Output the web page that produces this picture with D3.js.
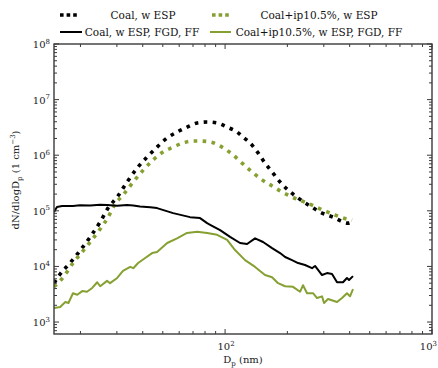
<!DOCTYPE html>
<html><head><meta charset="utf-8">
<script src="https://cdn.jsdelivr.net/npm/d3@7"></script>
<style>
body{margin:0;background:#fff;}
svg{display:block;}
svg text{font-family:'DejaVu Serif','Liberation Serif',serif;}
</style></head><body>
<svg id="c" width="438" height="368"></svg>
<script>
// ---- data (diameter in nm, dN/dlogDp in cm^-3) ----
const seriesNames = ["Coal, w ESP", "Coal+ip10.5%, w ESP", "Coal, w ESP, FGD, FF", "Coal+ip10.5%, w ESP, FGD, FF"];

const coalEspD = [14.9,15.96,17.8,19.5,22.3,24.9,27.2,30.1,33.6,37.6,42.0,46.9,52.5,58.6,65.5,73.3,81.9,91.5,102.3,114.3,122.2,135.0,144.3,156.0,168.7,184.4,201.5,225.3,257.4,287.6,332.5,392.7,410.6];
const coalEspV = [5.0e3,7.3e3,1.15e4,1.74e4,3.4e4,6.3e4,1.12e5,1.77e5,3.3e5,5.9e5,9.3e5,1.40e6,2.04e6,2.61e6,3.2e6,3.8e6,3.95e6,3.8e6,3.2e6,2.61e6,2.12e6,1.52e6,1.10e6,7.2e5,5.0e5,3.3e5,2.37e5,1.70e5,1.22e5,9.5e4,7.7e4,6.0e4,6.3e4];

const ipEspD = [14.9,16.5,18.4,20.4,22.3,24.9,27.2,29.4,32.1,36.0,40.2,44.9,50.1,56.1,62.7,70.0,75.7,84.7,96.7,109.3,120.8,135.0,150.9,168.7,188.5,210.7,235.5,263.2,297.3,339.9,388.3,410.6];
const ipEspV = [4.3e3,6.4e3,1.15e4,1.82e4,2.75e4,4.7e4,7.7e4,1.32e5,1.92e5,3.3e5,5.4e5,8.2e5,1.14e6,1.40e6,1.66e6,1.80e6,1.80e6,1.73e6,1.40e6,1.01e6,7.2e5,5.0e5,3.6e5,2.8e5,2.18e5,1.77e5,1.50e5,1.27e5,1.03e5,8.4e4,7.1e4,6.8e4];

const coalFfD = [14.9,15.1,15.4,16.3,18.4,19.9,22.3,24.9,26.9,30.1,33.6,36.0,38.8,43.5,46.9,56.1,67.7,75.7,81.9,84.7,94.6,105.7,118.1,127.7,139.6,152.6,168.7,184.4,195.0,210.7,225.3,243.4,263.2,272.1,294.1,311.0,328.8,347.6,371.5,388.3,397.2,415.2];
const coalFfV = [9.5e4,1.03e5,1.17e5,1.22e5,1.22e5,1.26e5,1.25e5,1.29e5,1.27e5,1.24e5,1.27e5,1.25e5,1.20e5,1.16e5,1.12e5,9.1e4,7.7e4,7.4e4,6.0e4,5.6e4,4.5e4,3.4e4,2.64e4,2.53e4,3.2e4,2.75e4,2.14e4,1.74e4,1.48e4,1.30e4,1.15e4,1.06e4,9.3e3,1.02e4,7.0e3,7.6e3,7.3e3,5.2e3,5.2e3,6.2e3,5.7e3,6.7e3];

const ipFfD = [14.9,15.96,16.9,17.5,18.4,19.3,20.4,21.5,22.8,24.1,24.9,26.9,27.8,30.1,32.1,34.8,36.0,38.0,41.1,44.4,46.9,52.5,58.6,65.5,73.3,81.9,91.5,102.3,111.7,124.9,139.6,156.0,168.7,180.3,195.0,213.0,230.3,238.1,248.9,266.1,278.2,294.1,300.7,314.5,347.6,367.4,388.3,401.6,415.2];
const ipFfV = [1.79e3,1.86e3,2.3e3,2.2e3,3.3e3,3.1e3,3.6e3,3.5e3,4.1e3,5.2e3,4.4e3,5.5e3,5.0e3,6.2e3,8.3e3,9.8e3,9.3e3,1.15e4,1.42e4,1.74e4,1.82e4,2.64e4,3.2e4,4.0e4,4.2e4,4.0e4,3.7e4,3.0e4,1.97e4,1.30e4,9.8e3,7.0e3,6.4e3,5.0e3,4.4e3,4.3e3,3.5e3,4.6e3,3.3e3,3.3e3,2.7e3,2.9e3,2.2e3,2.6e3,2.3e3,2.7e3,3.3e3,2.9e3,3.9e3];

const xTickVals = [100, 1000];
const xTickExp = ["2", "3"];
const yTickVals = [1e3, 1e4, 1e5, 1e6, 1e7, 1e8];
const yTickExp = ["3", "4", "5", "6", "7", "8"];

// ---- layout ----
const FONT = "'DejaVu Serif','Liberation Serif',serif";
const svg = d3.select("#c");
const L = 54, R = 432, T = 44, B = 334;
const x = d3.scaleLog().domain([14.9, 1000]).range([L, R]);
const y = d3.scaleLog().domain([Math.pow(10, 2.785), 1e8]).range([B, T]);
const green = "#86a032";
const axisCol = "#3a3a3a";

const line = d3.line().x(d => x(d[0])).y(d => y(d[1]));
const zip = (a, b) => a.map((v, i) => [v, b[i]]);
svg.append("clipPath").attr("id", "pc").append("rect").attr("x", L).attr("y", T).attr("width", R - L).attr("height", B - T);
const g = svg.append("g").attr("clip-path", "url(#pc)");

const styles = [
  {d: zip(coalEspD, coalEspV), c: "#000", w: 3.6, dash: "3.6,5.4", curve: d3.curveMonotoneX},
  {d: zip(ipEspD, ipEspV), c: green, w: 3.6, dash: "3.6,5.4", curve: d3.curveMonotoneX},
  {d: zip(coalFfD, coalFfV), c: "#000", w: 2, dash: null, curve: d3.curveLinear},
  {d: zip(ipFfD, ipFfV), c: green, w: 2, dash: null, curve: d3.curveLinear}
];
styles.forEach(s => {
  g.append("path").attr("d", line.curve(s.curve)(s.d))
    .attr("fill", "none").attr("stroke", s.c).attr("stroke-width", s.w)
    .attr("stroke-dasharray", s.dash).attr("stroke-linejoin", "round");
});

function logTicks(scale) {
  const [a, b] = scale.domain();
  const out = [];
  for (let e = Math.floor(Math.log10(a)); e <= Math.ceil(Math.log10(b)); e++) {
    for (let m = 1; m < 10; m++) {
      const v = m * Math.pow(10, e);
      if (v >= a * 0.999 && v <= b * 1.001) out.push({v, major: m === 1});
    }
  }
  return out;
}
const xt = logTicks(x), yt = logTicks(y);
const tg = svg.append("g").attr("stroke", axisCol).attr("stroke-width", 1);
xt.forEach(t => {
  const px = x(t.v), len = t.major ? 5 : 3;
  tg.append("line").attr("x1", px).attr("x2", px).attr("y1", B).attr("y2", B - len);
  tg.append("line").attr("x1", px).attr("x2", px).attr("y1", T).attr("y2", T + len);
});
yt.forEach(t => {
  const py = y(t.v), len = t.major ? 5 : 3;
  tg.append("line").attr("y1", py).attr("y2", py).attr("x1", L).attr("x2", L + len);
  tg.append("line").attr("y1", py).attr("y2", py).attr("x1", R).attr("x2", R - len);
});
svg.append("rect").attr("x", L).attr("y", T).attr("width", R - L).attr("height", B - T)
  .attr("fill", "none").attr("stroke", axisCol).attr("stroke-width", 1.4);

function txt(xp, yp, anchor, size) {
  return svg.append("text").attr("x", xp).attr("y", yp).attr("text-anchor", anchor)
    .attr("font-family", FONT).attr("font-size", size).attr("fill", "#222");
}

yTickVals.forEach((v, i) => {
  const t = txt(50, y(v) + 4, "end", 10);
  t.append("tspan").text("10");
  t.append("tspan").attr("font-size", 7).attr("dy", -4.5).text(yTickExp[i]);
});
xTickVals.forEach((v, i) => {
  const px = x(v) + 1;
  const t = px + 9 > 437 ? txt(437, 350, "end", 10) : txt(px, 350, "middle", 10);
  t.append("tspan").text("10");
  t.append("tspan").attr("font-size", 7).attr("dy", -4.5).text(xTickExp[i]);
});

const xl = txt(243, 363, "middle", 10);
xl.append("tspan").text("D");
xl.append("tspan").attr("font-size", 7).attr("dy", 2.5).text("p");
xl.append("tspan").attr("dy", -2.5).text(" (nm)");

const yl = svg.append("text").attr("transform", "translate(19,180) rotate(-90)").attr("text-anchor", "middle")
  .attr("font-family", FONT).attr("font-size", 10).attr("fill", "#222");
yl.append("tspan").text("dN/dlogD");
yl.append("tspan").attr("font-size", 7).attr("dy", 2.5).text("p");
yl.append("tspan").attr("dy", -2.5).text(" (1 cm");
yl.append("tspan").attr("font-size", 7).attr("dy", -4.5).text("−3");
yl.append("tspan").attr("dy", 4.5).text(")");

const leg = [
  {x1: 60, x2: 78, y: 15, tx: 143, i: 0},
  {x1: 212, x2: 230, y: 15, tx: 319, i: 1},
  {x1: 60, x2: 82, y: 32, tx: 142, i: 2},
  {x1: 210, x2: 231, y: 32, tx: 319, i: 3}
];
leg.forEach(l => {
  const s = styles[l.i];
  svg.append("line").attr("x1", l.x1).attr("x2", l.x2).attr("y1", l.y).attr("y2", l.y)
    .attr("stroke", s.c).attr("stroke-width", s.w).attr("stroke-dasharray", s.dash ? "3.6,3" : null);
  txt(l.tx, l.y + 4, "middle", 10.5).attr("fill", "#111").text(seriesNames[l.i]);
});
</script>
</body></html>
